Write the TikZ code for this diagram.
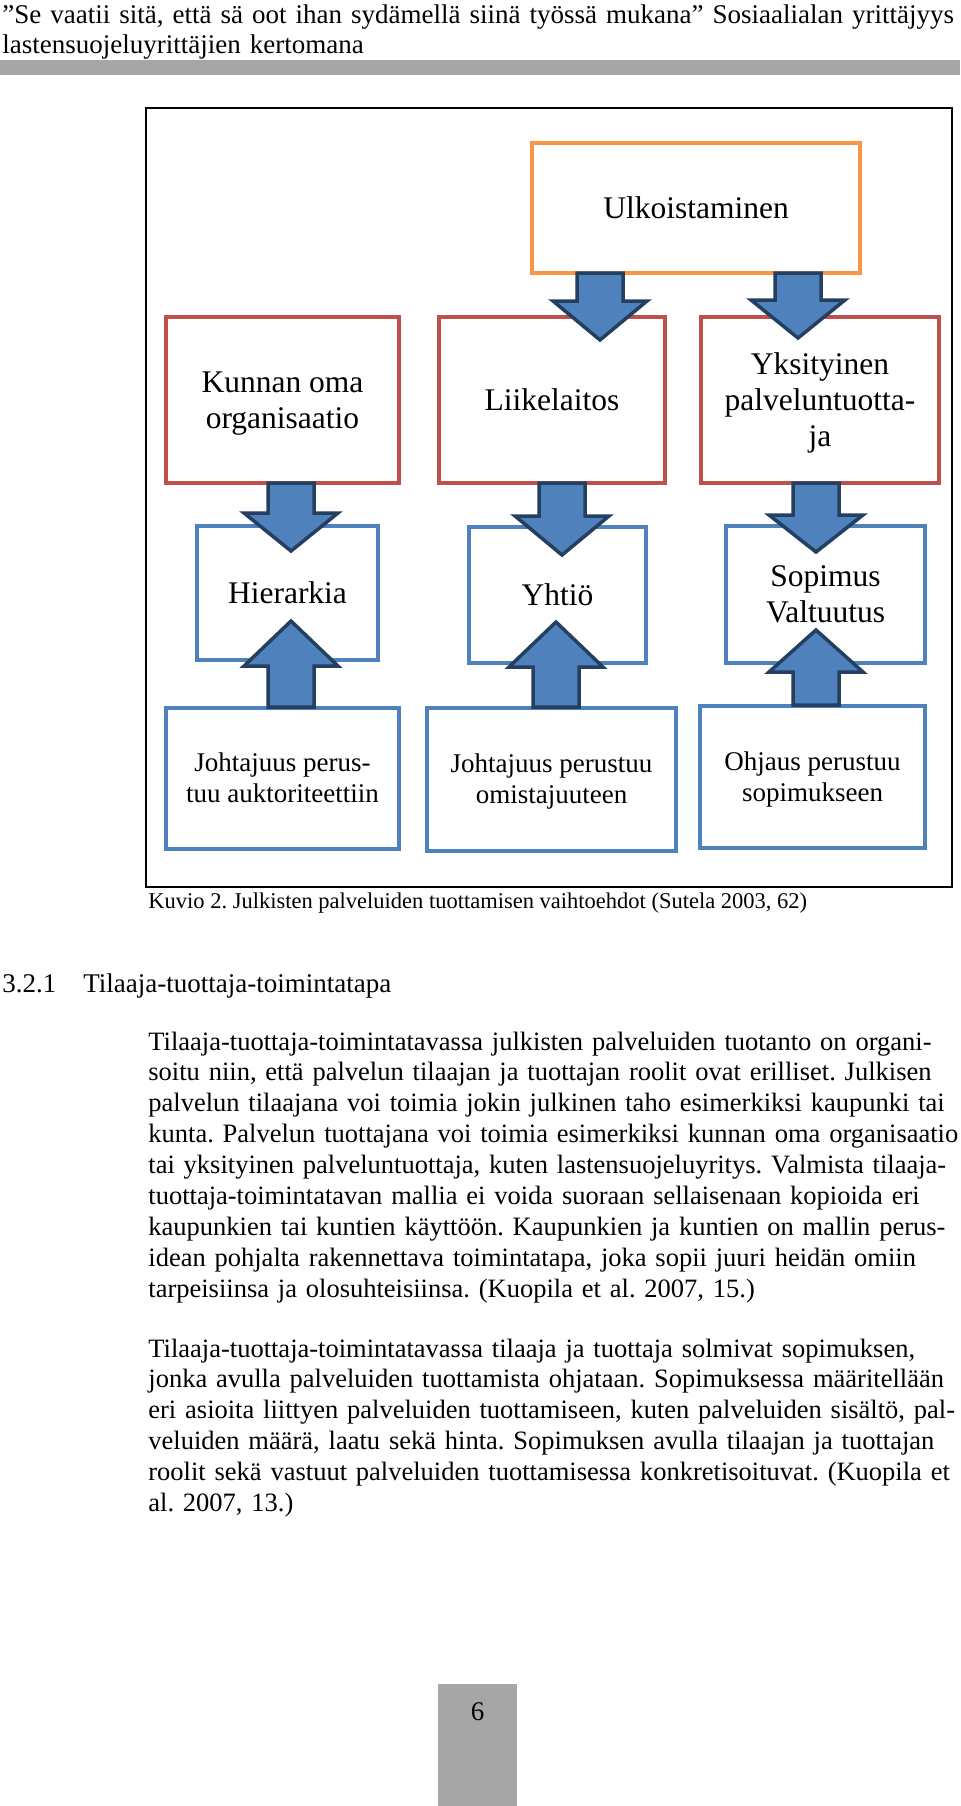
\documentclass[tikz,border=0pt]{standalone}
\usepackage{fontspec}
\setmainfont{Liberation Serif}
\usetikzlibrary{calc}

\definecolor{barGray}{HTML}{A6A6A6}
\definecolor{boxOrange}{HTML}{F79646}
\definecolor{boxRed}{HTML}{C0504D}
\definecolor{boxBlue}{HTML}{4F81BD}
\definecolor{arrowEdge}{HTML}{243F60}

\newcommand{\diagfont}{\fontsize{15.75}{18}\selectfont}
\newcommand{\notefont}{\fontsize{13.5}{15.5}\selectfont}
\newcommand{\bodyfont}{\fontsize{13.25}{15.45}\selectfont\frenchspacing\spaceskip=0.25em plus 0.4em minus 0.1em\relax}
\newcommand{\headfont}{\fontsize{13.5}{15}\selectfont\frenchspacing}
\newcommand{\captfont}{\fontsize{11.25}{13}\selectfont\frenchspacing}
\newcommand{\jline}[1]{\makebox[\linewidth][s]{#1}\\}

\tikzset{
	diabox/.style={line width=2pt, align=center, inner sep=2pt, font=\diagfont, text depth=4pt},
	oneline/.style={text height=14pt},
	twolines/.style={text height=32pt},
	threelines/.style={text height=50pt},
	orangebox/.style={diabox, oneline, draw=boxOrange},
	redbox/.style={diabox, draw=boxRed},
	bluebox/.style={diabox, draw=boxBlue},
	notebox/.style={diabox, draw=boxBlue, font=\notefont, text height=27.5pt, text depth=3.5pt},
	blockarrow/.style={fill=boxBlue, draw=arrowEdge, line width=1.75pt, line join=miter},
	pagetext/.style={anchor=base west, inner sep=0pt, font=\bodyfont}
}

\newcommand{\blockarrow}[3]{%
	\path #1 coordinate (bs) #2 coordinate (bt);
	\coordinate (hb) at ($(bt)!#3!(bs)$);
	\draw [blockarrow] ($(bs)!11.5pt!90:(bt)$) -- ($(hb)!11.5pt!90:(bt)$) -- ($(hb)!23.5pt!90:(bt)$)
		-- (bt) -- ($(hb)!23.5pt!-90:(bt)$) -- ($(hb)!11.5pt!-90:(bt)$) -- ($(bs)!11.5pt!-90:(bt)$) -- cycle;
}

\begin{document}
\begin{tikzpicture}[x=0.5pt, y=-0.5pt]
	\useasboundingbox (0,0) rectangle (960,1806);

	\node [pagetext, text width=476pt, font=\headfont] (header) at (2,23)
		{\jline{”Se vaatii sitä, että sä oot ihan sydämellä siinä työssä mukana” Sosiaalialan yrittäjyys}
		lastensuojeluyrittäjien kertomana};
	\fill [barGray] (0,60) rectangle (960,75);

	\draw [line width=1pt] (146,108) rectangle (952,887);

	\node [orangebox, minimum width=164pt, minimum height=65pt] (ulko) at (696,208) {Ulkoistaminen};

	\node [redbox, twolines, minimum width=116.5pt, minimum height=83pt] (kunta) at (282.5,400) {Kunnan oma\\organisaatio};
	\node [redbox, oneline, minimum width=113pt, minimum height=83pt] (liike) at (552,400) {Liikelaitos};
	\node [redbox, threelines, minimum width=119pt, minimum height=83pt] (yksit) at (820,400) {Yksityinen\\palveluntuotta-\\ja};

	\node [bluebox, oneline, minimum width=90.5pt, minimum height=67pt] (hier) at (287.5,593) {Hierarkia};
	\node [bluebox, oneline, minimum width=88.5pt, minimum height=68pt] (yhtio) at (557.5,595) {Yhtiö};
	\node [bluebox, twolines, minimum width=99.5pt, minimum height=68.5pt] (sopim) at (825.5,594.5) {Sopimus\\Valtuutus};

	\node [notebox, minimum width=116.5pt, minimum height=70.5pt] (johto) at (282.5,778.5) {Johtajuus perus-\\tuu auktoriteettiin};
	\node [notebox, minimum width=124.5pt, minimum height=71.5pt] (omist) at (551.5,779.5) {Johtajuus perustuu\\omistajuuteen};
	\node [notebox, minimum width=112.5pt, minimum height=71pt] (ohjaus) at (812.5,777) {Ohjaus perustuu\\sopimukseen};

	\blockarrow{($(ulko.south)+(-96,-2)$)}{($(liike.north)+(48,25)$)}{19.5pt}
	\blockarrow{($(ulko.south)+(102,-2)$)}{($(yksit.north)+(-22,23)$)}{19pt}
	\blockarrow{($(kunta.south)+(8.5,-2)$)}{($(hier.north)+(3.5,27)$)}{19pt}
	\blockarrow{($(liike.south)+(10,-2)$)}{($(yhtio.north)+(4.5,30)$)}{19.5pt}
	\blockarrow{($(yksit.south)+(-4,-2)$)}{($(sopim.north)+(-9.5,28)$)}{18.5pt}
	\blockarrow{($(johto.north)+(8.5,1)$)}{($(hier.south)+(3.5,-41)$)}{22.5pt}
	\blockarrow{($(omist.north)+(4.5,1)$)}{($(yhtio.south)+(-1.5,-43)$)}{22.5pt}
	\blockarrow{($(ohjaus.north)+(3.5,1)$)}{($(sopim.south)+(-9.5,-35)$)}{21pt}

	\node [pagetext, font=\captfont] (caption) at (148,908) {Kuvio 2. Julkisten palveluiden tuottamisen vaihtoehdot (Sutela 2003, 62)};

	\node [pagetext, font=\headfont] (heading) at (2,992) {\makebox[40.5pt][l]{3.2.1}Tilaaja-tuottaja-toimintatapa};

	\node [pagetext, text width=403pt] (para1) at (148,1050)
		{\jline{Tilaaja-tuottaja-toimintatavassa julkisten palveluiden tuotanto on organi-}
		\jline{soitu niin, että palvelun tilaajan ja tuottajan roolit ovat erilliset. Julkisen}
		\jline{palvelun tilaajana voi toimia jokin julkinen taho esimerkiksi kaupunki tai}
		\jline{kunta. Palvelun tuottajana voi toimia esimerkiksi kunnan oma organisaatio}
		\jline{tai yksityinen palveluntuottaja, kuten lastensuojeluyritys. Valmista tilaaja-}
		\jline{tuottaja-toimintatavan mallia ei voida suoraan sellaisenaan kopioida eri}
		\jline{kaupunkien tai kuntien käyttöön. Kaupunkien ja kuntien on mallin perus-}
		\jline{idean pohjalta rakennettava toimintatapa, joka sopii juuri heidän omiin}
		tarpeisiinsa ja olosuhteisiinsa. (Kuopila et al. 2007, 15.)};

	\node [pagetext, text width=403pt] (para2) at (148,1357)
		{\jline{Tilaaja-tuottaja-toimintatavassa tilaaja ja tuottaja solmivat sopimuksen,}
		\jline{jonka avulla palveluiden tuottamista ohjataan. Sopimuksessa määritellään}
		\jline{eri asioita liittyen palveluiden tuottamiseen, kuten palveluiden sisältö, pal-}
		\jline{veluiden määrä, laatu sekä hinta. Sopimuksen avulla tilaajan ja tuottajan}
		\jline{roolit sekä vastuut palveluiden tuottamisessa konkretisoituvat. (Kuopila et}
		al. 2007, 13.)};

	\fill [barGray] (438,1684) rectangle (517,1806);
	\node [anchor=base, inner sep=0pt, font=\headfont] (pagenum) at (477.5,1720) {6};
\end{tikzpicture}
\end{document}
